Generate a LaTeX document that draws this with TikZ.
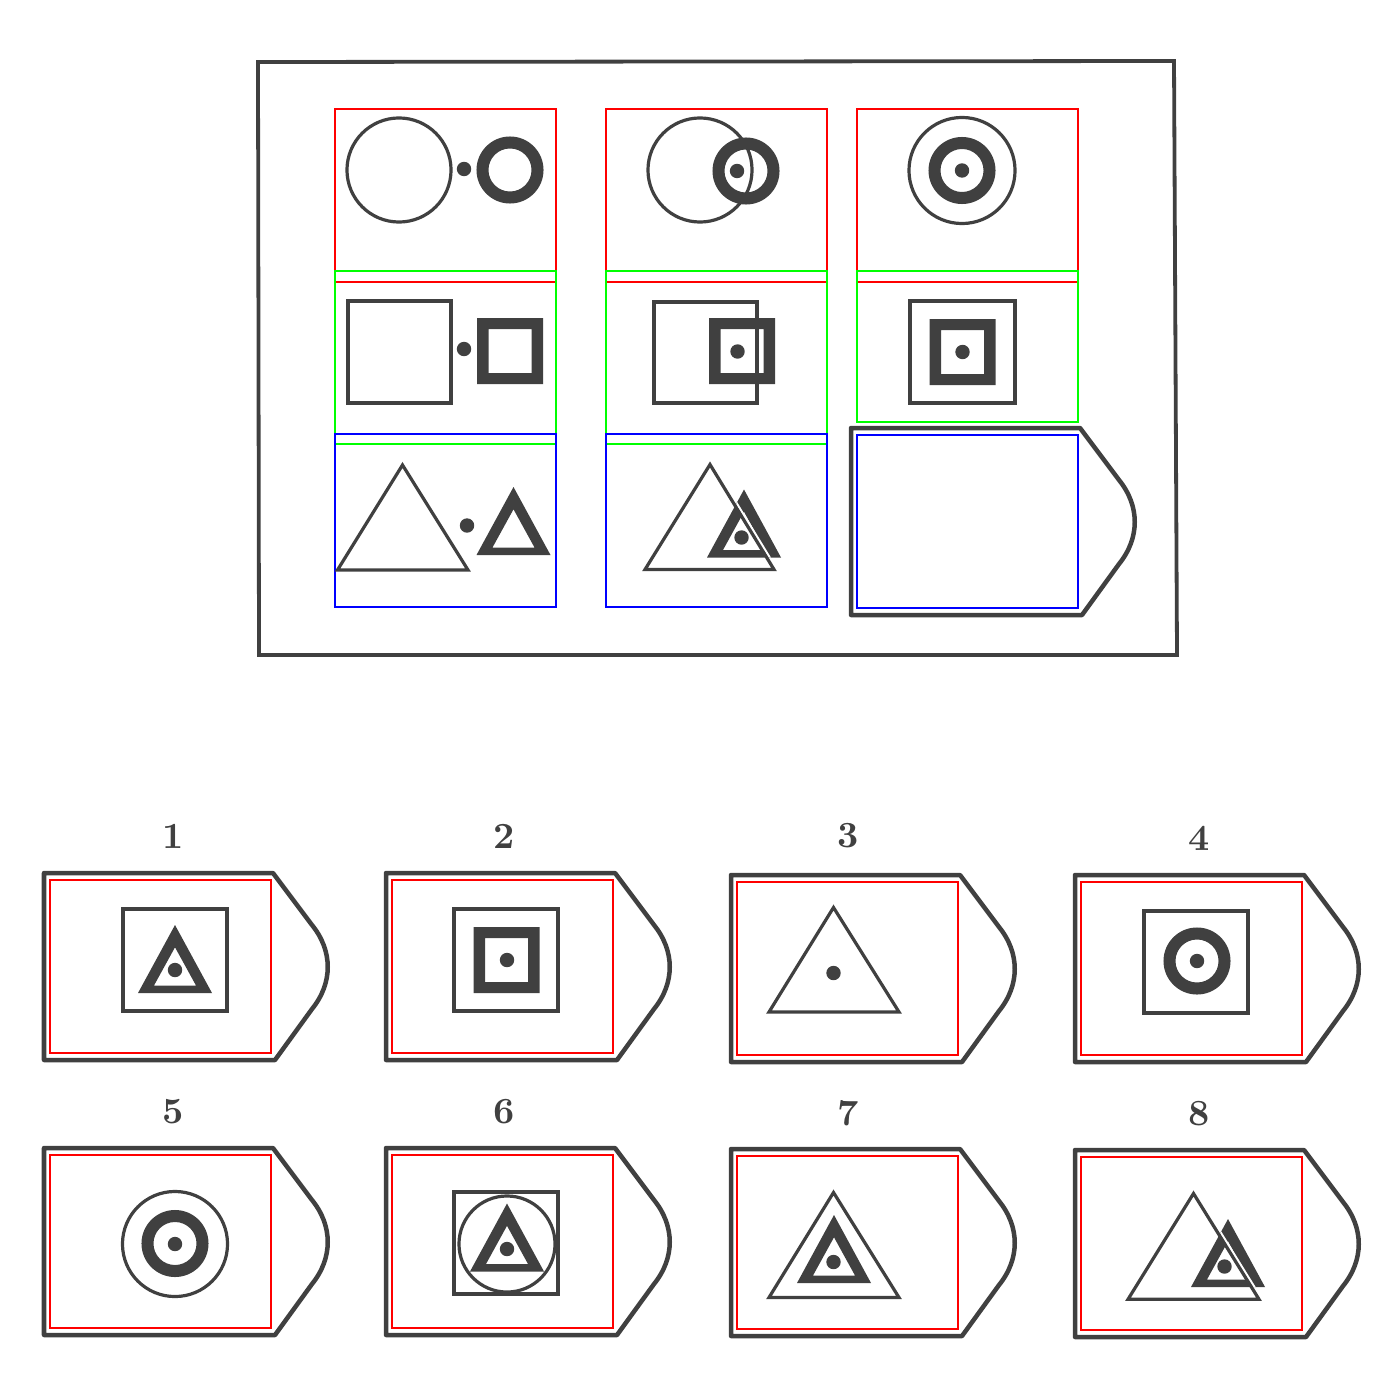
\documentclass[tikz,border=0pt]{standalone}
\usepackage{xcolor}
\usepackage{tikz}
\usetikzlibrary{calc}
\definecolor{ink}{HTML}{404040}
\definecolor{cellred}{RGB}{255,0,0}
\definecolor{cellgreen}{RGB}{0,255,0}
\definecolor{cellblue}{RGB}{0,0,255}

\begin{document}
\begin{tikzpicture}[
    x=0.01cm, y=-0.01cm,
    fineline/.style={draw=ink, line width=0.32mm},
    frameline/.style={draw=ink, line width=0.38mm},
    cardline/.style={draw=ink, line width=0.45mm, line join=round},
    cellline/.style={line width=0.12mm},
    gapline/.style={white, line width=0.22mm},
    numlabel/.style={font=\fontsize{10.5}{12}\selectfont\bfseries, text=ink, inner sep=0pt},
    pics/tagcard/.style={code={
        \draw[cardline] (0,0) -- (229,0) -- (268,52) .. controls (289,78) and (289,110) .. (268,136) -- (231,187) -- (0,187) -- cycle;
        \draw[#1, cellline] (6,7) rectangle (227,180);
    }},
    pics/ring/.style={code={
        \fill[ink, even odd rule] (0,0) circle[radius=3.35mm] (0,0) circle[radius=2.15mm];
    }},
    pics/thicksq/.style={code={
        \fill[ink, even odd rule] (-33,-33) rectangle (33,33) (-21.5,-22) rectangle (21.5,22);
    }},
    pics/thicktri/.style={code={
        \fill[ink, even odd rule] (0,0) -- (-37,68) -- (37,68) -- cycle (0,22.3) -- (-21,60.5) -- (21,60.5) -- cycle;
    }}
]
    \useasboundingbox (0,0) rectangle (1400,1400);

    % Matrix frame
    \draw[frameline] (258,62) -- (1174,61) -- (1177,655) -- (259,655) -- cycle;

    % Cell borders (red row, green row, blue row)
    \draw[cellred, cellline] (335,109) rectangle (556,282);
    \draw[cellred, cellline] (606,109) rectangle (827,282);
    \draw[cellred, cellline] (857,109) rectangle (1078,282);
    \draw[cellgreen, cellline] (335,271) rectangle (556,444);
    \draw[cellgreen, cellline] (606,271) rectangle (827,444);
    \draw[cellgreen, cellline] (857,271) rectangle (1078,422);
    \draw[cellblue, cellline] (335,434) rectangle (556,607);
    \draw[cellblue, cellline] (606,434) rectangle (827,607);

    % Row 1: circles
    \draw[fineline] (399,170) circle[radius=5.2mm];
    \fill[ink] (464,169) circle[radius=0.72mm];
    \pic at (510,170) {ring};
    \pic at (746,171) {ring};
    \draw[fineline] (700,170) circle[radius=5.2mm];
    \fill[ink] (737,171) circle[radius=0.72mm];
    \draw[fineline] (962,170.5) circle[radius=5.3mm];
    \pic at (962,170.5) {ring};
    \fill[ink] (962,170.5) circle[radius=0.72mm];

    % Row 2: squares
    \draw[fineline] (348,301) rectangle (451,403);
    \fill[ink] (464,349) circle[radius=0.72mm];
    \pic at (510,351) {thicksq};
    \pic at (742,351) {thicksq};
    \draw[fineline] (654,302) rectangle (757,403);
    \fill[ink] (737.5,351.5) circle[radius=0.72mm];
    \draw[fineline] (910,301) rectangle (1015,403);
    \pic at (962.5,352) {thicksq};
    \fill[ink] (962.5,352) circle[radius=0.72mm];

    % Row 3: triangles
    \draw[fineline] (402.5,465) -- (337.5,570) -- (468,570) -- cycle;
    \fill[ink] (467,525.5) circle[radius=0.72mm];
    \pic at (513.5,487) {thicktri};
    \pic at (744,489.5) {thicktri};
    \fill[ink] (741.5,537.5) circle[radius=0.72mm];
    \begin{scope}
        \clip (744,489.5) -- (707,557.5) -- (781,557.5) -- cycle;
        \draw[gapline] (713,464.5) -- (777,569.5);
    \end{scope}
    \draw[fineline] (710,464.5) -- (645,569.5) -- (774,569.5) -- cycle;

    % Empty answer slot
    \pic at (851,428) {tagcard=cellblue};

    % Answer choices
    \node[numlabel] (lab1) at (173,836) {1};
    \node[numlabel] (lab2) at (504,836) {2};
    \node[numlabel] (lab3) at (848,836) {3};
    \node[numlabel] (lab4) at (1199,838) {4};
    \node[numlabel] (lab5) at (173,1112) {5};
    \node[numlabel] (lab6) at (504,1112) {6};
    \node[numlabel] (lab7) at (848,1113) {7};
    \node[numlabel] (lab8) at (1199,1114) {8};

    \pic at (44,873) {tagcard=cellred};
    \pic at (386,873) {tagcard=cellred};
    \pic at (731,875) {tagcard=cellred};
    \pic at (1075,875) {tagcard=cellred};
    \pic at (44,1148) {tagcard=cellred};
    \pic at (386,1148) {tagcard=cellred};
    \pic at (731,1149) {tagcard=cellred};
    \pic at (1075,1150) {tagcard=cellred};

    % 1
    \draw[fineline] (123,909) rectangle (227,1011);
    \pic at (175,925) {thicktri};
    \fill[ink] (175,970) circle[radius=0.72mm];
    % 2
    \draw[fineline] (454,909) rectangle (558,1011);
    \pic at (506.5,960) {thicksq};
    \fill[ink] (507,960) circle[radius=0.72mm];
    % 3
    \draw[fineline] (833.5,907.5) -- (769,1012) -- (899,1012) -- cycle;
    \fill[ink] (833.5,973) circle[radius=0.72mm];
    % 4
    \draw[fineline] (1144,911) rectangle (1248,1013);
    \pic at (1197,961) {ring};
    \fill[ink] (1197,961) circle[radius=0.72mm];
    % 5
    \draw[fineline] (175,1244) circle[radius=5.25mm];
    \pic at (175,1243.5) {ring};
    \fill[ink] (175,1244) circle[radius=0.72mm];
    % 6
    \draw[fineline] (454,1192) rectangle (558,1294);
    \draw[fineline] (507,1244) circle[radius=4.8mm];
    \pic at (507,1203.5) {thicktri};
    \fill[ink] (507,1249) circle[radius=0.72mm];
    % 7
    \draw[fineline] (833.5,1192.5) -- (769,1297.5) -- (899,1297.5) -- cycle;
    \pic at (834,1215) {thicktri};
    \fill[ink] (833.5,1262) circle[radius=0.72mm];
    % 8
    \pic at (1228,1219) {thicktri};
    \fill[ink] (1224.5,1266.5) circle[radius=0.72mm];
    \begin{scope}
        \clip (1228,1219) -- (1191,1287) -- (1265,1287) -- cycle;
        \draw[gapline] (1196.5,1193.5) -- (1262,1299.3);
    \end{scope}
    \draw[fineline] (1193.5,1193.5) -- (1128,1299.3) -- (1259,1299.3) -- cycle;
\end{tikzpicture}
\end{document}
